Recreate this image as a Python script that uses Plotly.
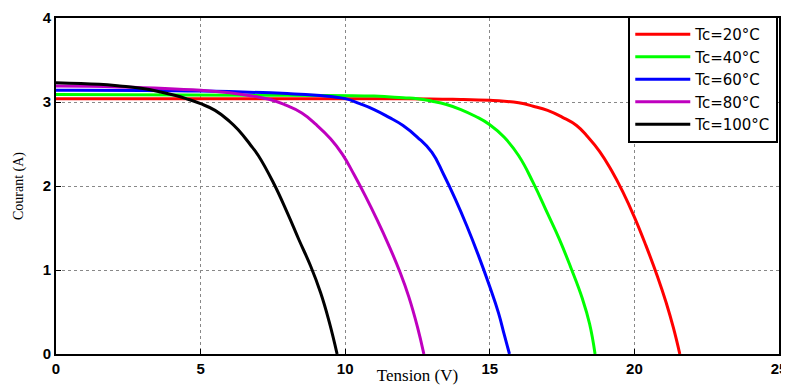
import plotly.graph_objects as go

# Data (Tension V, Courant A)
v_20 = [0, 12, 14, 15, 15.5, 16, 16.5, 17, 17.5, 18, 18.4, 18.8, 19.2, 19.6, 20.0, 20.4, 20.8, 21.1, 21.35, 21.57]
i_20 = [3.04, 3.04, 3.03, 3.02, 3.01, 2.99, 2.95, 2.90, 2.82, 2.72, 2.58, 2.41, 2.19, 1.93, 1.63, 1.29, 0.92, 0.61, 0.31, 0.0]

v_40 = [0, 8, 11, 12, 12.5, 13, 13.5, 14, 14.5, 15, 15.5, 16, 16.5, 17, 17.4, 17.8, 18.2, 18.45, 18.64]
i_40 = [3.09, 3.08, 3.07, 3.05, 3.04, 3.01, 2.97, 2.91, 2.83, 2.73, 2.58, 2.36, 2.04, 1.67, 1.37, 1.03, 0.66, 0.36, 0.0]

v_60 = [0, 5, 8, 9, 10, 10.5, 11, 11.5, 12, 12.5, 13, 13.4, 13.8, 14.2, 14.6, 15.0, 15.3, 15.5, 15.68]
i_60 = [3.14, 3.13, 3.10, 3.08, 3.04, 2.98, 2.91, 2.82, 2.72, 2.58, 2.40, 2.14, 1.85, 1.53, 1.18, 0.80, 0.49, 0.23, 0.0]

v_80 = [0, 2.2, 5, 6, 6.8, 7.4, 7.9, 8.5, 9.0, 9.5, 9.9, 10.3, 10.7, 11.1, 11.5, 11.9, 12.2, 12.5, 12.72]
i_80 = [3.19, 3.18, 3.14, 3.11, 3.07, 3.03, 2.97, 2.87, 2.73, 2.56, 2.38, 2.14, 1.88, 1.60, 1.30, 0.97, 0.68, 0.32, 0.0]

v_100 = [0, 1.5, 2.2, 3.0, 3.6, 4.1, 4.5, 5.0, 5.5, 6.0, 6.3, 6.7, 7.0, 7.5, 8.0, 8.4, 8.8, 9.15, 9.45, 9.72]
i_100 = [3.23, 3.21, 3.19, 3.16, 3.12, 3.08, 3.04, 2.98, 2.90, 2.77, 2.67, 2.50, 2.36, 2.05, 1.68, 1.36, 1.05, 0.73, 0.38, 0.0]

series = [
    ("Tc=20°C", v_20, i_20, "#ff0000"),
    ("Tc=40°C", v_40, i_40, "#00ff00"),
    ("Tc=60°C", v_60, i_60, "#0000ff"),
    ("Tc=80°C", v_80, i_80, "#bf00bf"),
    ("Tc=100°C", v_100, i_100, "#000000"),
]

fig = go.Figure()
for name, xs, ys, col in series:
    fig.add_trace(go.Scatter(x=xs, y=ys, mode="lines", name=name,
                             line=dict(color=col, width=3, shape="spline", smoothing=1.3)))

axis_common = dict(
    showline=True, linecolor="black", linewidth=2, mirror=True,
    ticks="inside", ticklen=5, tickcolor="black",
    showgrid=True, gridcolor="#888888", griddash="dot", gridwidth=1,
    zeroline=False, automargin=False,
    tickfont=dict(family="Liberation Sans, Arial", size=15, color="black", weight="bold"),
)

# The page body has an 8px margin, so the figure is offset by 8px
fig.update_layout(
    width=781, height=377,
    margin=dict(l=48, r=10, t=9, b=31),
    paper_bgcolor="white", plot_bgcolor="white",
    xaxis=dict(range=[0, 25], tickvals=[0, 5, 10, 15, 20, 25],
               title=dict(text="Tension (V)", standoff=5,
                          font=dict(family="Liberation Serif, Times New Roman", size=17, color="black")),
               **axis_common),
    yaxis=dict(range=[0, 4], tickvals=[0, 1, 2, 3, 4],
               title=dict(text="Courant (A)", standoff=16,
                          font=dict(family="Liberation Serif, Times New Roman", size=14, color="black")),
               **axis_common),
    legend=dict(x=0.999, xanchor="right", y=1.003, yanchor="top",
                bgcolor="white", bordercolor="black", borderwidth=2,
                font=dict(family="DejaVu Sans", size=15, color="black"),
                itemwidth=55, tracegroupgap=0),
    showlegend=True,
)

fig.write_html("out.html")
